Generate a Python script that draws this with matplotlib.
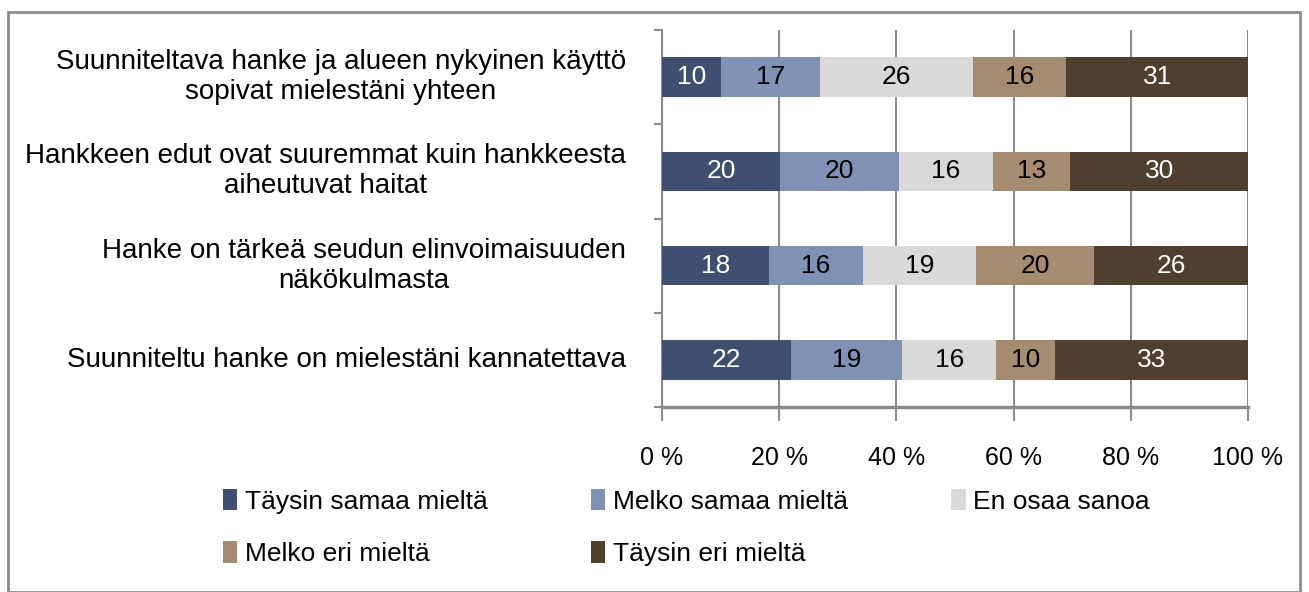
import numpy as np
import matplotlib.pyplot as plt
import matplotlib.transforms as mtransforms
from matplotlib.patches import Rectangle

plt.rcParams['font.family'] = ['Liberation Sans', 'DejaVu Sans']

statements = [
    'Suunniteltava hanke ja alueen nykyinen käyttö\nsopivat mielestäni yhteen',
    'Hankkeen edut ovat suuremmat kuin hankkeesta\naiheutuvat haitat',
    'Hanke on tärkeä seudun elinvoimaisuuden\nnäkökulmasta',
    'Suunniteltu hanke on mielestäni kannatettava',
]
series_names = ['Täysin samaa mieltä', 'Melko samaa mieltä', 'En osaa sanoa',
                'Melko eri mieltä', 'Täysin eri mieltä']
taysin_samaa = [10, 20, 18, 22]
melko_samaa = [17, 20, 16, 19]
en_osaa = [26, 16, 19, 16]
melko_eri = [16, 13, 20, 10]
taysin_eri = [31, 30, 26, 33]
tick_labels = ['0 %', '20 %', '40 %', '60 %', '80 %', '100 %']

colors = ['#3F4F70', '#7F91B5', '#D9D9D9', '#A58B6F', '#4F3F2F']
text_colors = ['white', 'black', 'black', 'black', 'white']

vals = np.array([taysin_samaa, melko_samaa, en_osaa, melko_eri, taysin_eri], dtype=float)
pct = vals / vals.sum(axis=0) * 100

fig = plt.figure(figsize=(13.09, 5.92), dpi=100)
fig.patches.append(Rectangle((8/1309, 0), 1292/1309, 580/592, transform=fig.transFigure,
                             fill=False, edgecolor='#8C8C8C', linewidth=2))

ax = fig.add_axes([662/1309, 1 - 407/592, 586/1309, 377/592])
y = np.arange(len(statements))
left = np.zeros(len(statements))
handles = []
for i in range(len(series_names)):
    b = ax.barh(y, pct[i], left=left, height=0.42, color=colors[i], label=series_names[i], zorder=3)
    handles.append(b)
    for j in range(len(statements)):
        ax.text(left[j] + pct[i][j] / 2, y[j], f'{int(vals[i][j])}', ha='center', va='center',
                color=text_colors[i], fontsize=19, zorder=4)
    left += pct[i]

ax.set_xlim(0, 100)
ax.set_ylim(len(statements) - 0.5, -0.5)
ax.set_xticks(np.arange(0, 101, 20))
ax.set_xticklabels(tick_labels, fontsize=18)
ax.set_yticks([])
ax.set_yticks(np.arange(-0.5, len(statements), 1), minor=True)
ax.tick_params(axis='y', which='minor', length=6, color='#8C8C8C', width=1.5)
ax.tick_params(axis='x', length=10, color='#8C8C8C', width=1.5, pad=18)
ax.grid(axis='x', color='#8C8C8C', linewidth=1.5, zorder=0)
for s in ['top', 'right']:
    ax.spines[s].set_visible(False)
ax.spines['left'].set_color('#8C8C8C')
ax.spines['left'].set_linewidth(1.5)
ax.spines['bottom'].set_color('#8C8C8C')
ax.spines['bottom'].set_linewidth(2.5)

# category labels: block right-aligned, lines centred within the block
trans = mtransforms.blended_transform_factory(ax.transAxes, ax.transData)
for j, s in enumerate(statements):
    ax.text(-0.062, y[j], s, transform=trans, ha='right', va='center',
            multialignment='center', fontsize=20, linespacing=1.2)

order = [0, 3, 1, 4, 2]
fig.legend([handles[k] for k in order], [series_names[k] for k in order], ncol=3,
           loc='upper left', bbox_to_anchor=(212/1309, 1 - 478/592), frameon=False,
           fontsize=19, handlelength=0.55, handleheight=0.9, handletextpad=0.3,
           columnspacing=3.9, labelspacing=1.05, borderaxespad=0)

fig.savefig('out.png', dpi=100)
